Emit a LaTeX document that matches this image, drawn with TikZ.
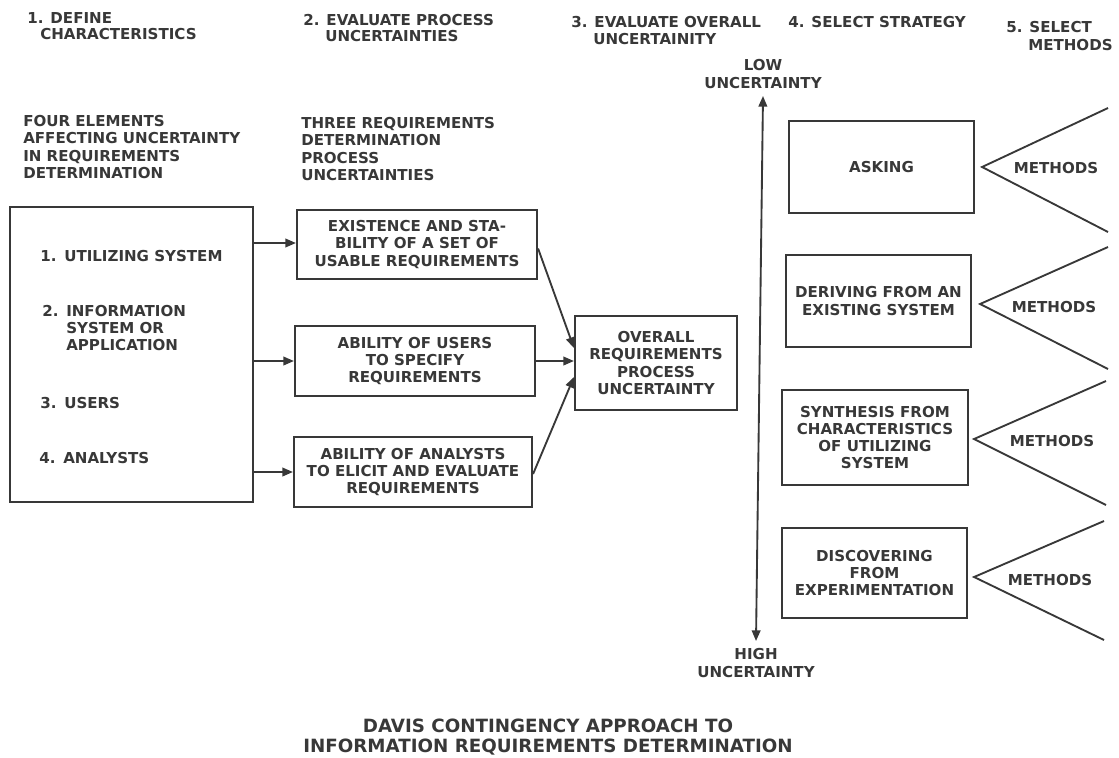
\documentclass[tikz,border=0pt]{standalone}
\usepackage{fontspec}
\setmainfont{DejaVu Sans}
\usetikzlibrary{arrows.meta,calc}
\definecolor{ink}{HTML}{383838}
\begin{document}
\begin{tikzpicture}[x=0.75pt,y=-0.75pt,
  every node/.style={font=\bfseries\fontsize{11.3}{12.9}\selectfont, text=ink, inner sep=0pt},
  box/.style={draw=ink, line width=1.6pt, align=center},
  con/.style={draw=ink, line width=1.4pt, -{Triangle[length=8pt,width=6.5pt]}},
  biarrow/.style={draw=ink, line width=1.4pt, {Triangle[length=8pt,width=6.5pt]}-{Triangle[length=8pt,width=6.5pt]}},
  wedge/.style={draw=ink, line width=1.4pt},
  lbl/.style={anchor=west, align=left},
  titlefont/.style={font=\bfseries\fontsize{13.7}{15}\selectfont},
]
\useasboundingbox (0,0) rectangle (1119,757);

% headers
\node[lbl] (h1a) at (27,18) {1. DEFINE};
\node[lbl] (h1b) at (40,34) {CHARACTERISTICS};
\node[lbl] (h2a) at (303,20) {2. EVALUATE PROCESS};
\node[lbl] (h2b) at (325,36) {UNCERTAINTIES};
\node[lbl] (h3a) at (571,22) {3. EVALUATE OVERALL};
\node[lbl] (h3b) at (593,39) {UNCERTAINITY};
\node[lbl] (h4) at (788,22) {4. SELECT STRATEGY};
\node[lbl] (h5a) at (1006,27) {5. SELECT};
\node[lbl] (h5b) at (1028,45) {METHODS};

\node[lbl] (four) at (23,147) {FOUR ELEMENTS\\AFFECTING UNCERTAINTY\\IN REQUIREMENTS\\DETERMINATION};
\node[lbl] (three) at (301,149) {THREE REQUIREMENTS\\DETERMINATION\\PROCESS\\UNCERTAINTIES};

% left box
\node[box, minimum width=182.25pt, minimum height=221.25pt] (L) at (131.5,354.5) {};
\node[lbl] (i1) at (40,256) {\makebox[18pt][l]{1.}UTILIZING SYSTEM};
\node[lbl] (i2) at (42,328) {\makebox[18pt][l]{2.}INFORMATION\\\hspace*{18pt}SYSTEM OR\\\hspace*{18pt}APPLICATION};
\node[lbl] (i3) at (40,403) {\makebox[18pt][l]{3.}USERS};
\node[lbl] (i4) at (39,458) {\makebox[18pt][l]{4.}ANALYSTS};

% process uncertainty boxes
\node[box, minimum width=180pt, minimum height=51.75pt] (A) at (417,244.5) {EXISTENCE AND STA-\\BILITY OF A SET OF\\USABLE REQUIREMENTS};
\node[box, minimum width=180pt, minimum height=52.5pt] (B) at (415,361) {ABILITY OF USERS\\TO SPECIFY\\REQUIREMENTS};
\node[box, minimum width=178.5pt, minimum height=52.5pt] (C) at (413,472) {ABILITY OF ANALYSTS\\TO ELICIT AND EVALUATE\\REQUIREMENTS};
\node[box, minimum width=121.5pt, minimum height=70.5pt] (O) at (656,363) {OVERALL\\REQUIREMENTS\\PROCESS\\UNCERTAINTY};

\draw[con] ($(L.east |- A.west)+(0,-1.5)$) -- ($(A.west)+(0,-1.5)$);
\draw[con] (L.east |- B.west) -- (B.west);
\draw[con] (L.east |- C.west) -- (C.west);
\draw[con] ($(A.east)+(0,4)$) -- ($(O.west)+(0,-15)$);
\draw[con] (B.east) -- (B.east -| O.west);
\draw[con] ($(C.east)+(0,2)$) -- ($(O.west)+(0,14)$);

% uncertainty axis
\node[align=center] (low) at (763,74) {LOW\\UNCERTAINTY};
\node[align=center] (high) at (756,663) {HIGH\\UNCERTAINTY};
\coordinate (vtop) at (763,96);
\coordinate (vbot) at (756,641);
\draw[biarrow] (vtop) -- (vbot);

% strategies
\node[box, minimum width=138.75pt, minimum height=69pt] (S1) at (881.5,167) {ASKING};
\node[box, minimum width=138.75pt, minimum height=69pt] (S2) at (878.5,301) {DERIVING FROM AN\\EXISTING SYSTEM};
\node[box, minimum width=139.5pt, minimum height=71.25pt] (S3) at (875,437.5) {SYNTHESIS FROM\\CHARACTERISTICS\\OF UTILIZING\\SYSTEM};
\node[box, minimum width=138.75pt, minimum height=67.5pt] (S4) at (874.5,573) {DISCOVERING\\FROM\\EXPERIMENTATION};

% methods wedges
\coordinate (m1t) at (1108,108); \coordinate (m1b) at (1108,232);
\coordinate (m2t) at (1108,247); \coordinate (m2b) at (1108,369);
\coordinate (m3t) at (1106,381); \coordinate (m3b) at (1106,505);
\coordinate (m4t) at (1104,521); \coordinate (m4b) at (1104,640);
\draw[wedge] (m1t) -- ($(S1.east)+(7,0)$) -- (m1b);
\draw[wedge] (m2t) -- ($(S2.east)+(8,3)$) -- (m2b);
\draw[wedge] (m3t) -- ($(S3.east)+(5,1.5)$) -- (m3b);
\draw[wedge] (m4t) -- ($(S4.east)+(6,4)$) -- (m4b);
\node (M1) at (1056,168) {METHODS};
\node (M2) at (1054,307) {METHODS};
\node (M3) at (1052,441) {METHODS};
\node (M4) at (1050,580) {METHODS};

% title
\node[titlefont, align=center] (title) at (548,737) {DAVIS CONTINGENCY APPROACH TO\\INFORMATION REQUIREMENTS DETERMINATION};
\end{tikzpicture}
\end{document}
